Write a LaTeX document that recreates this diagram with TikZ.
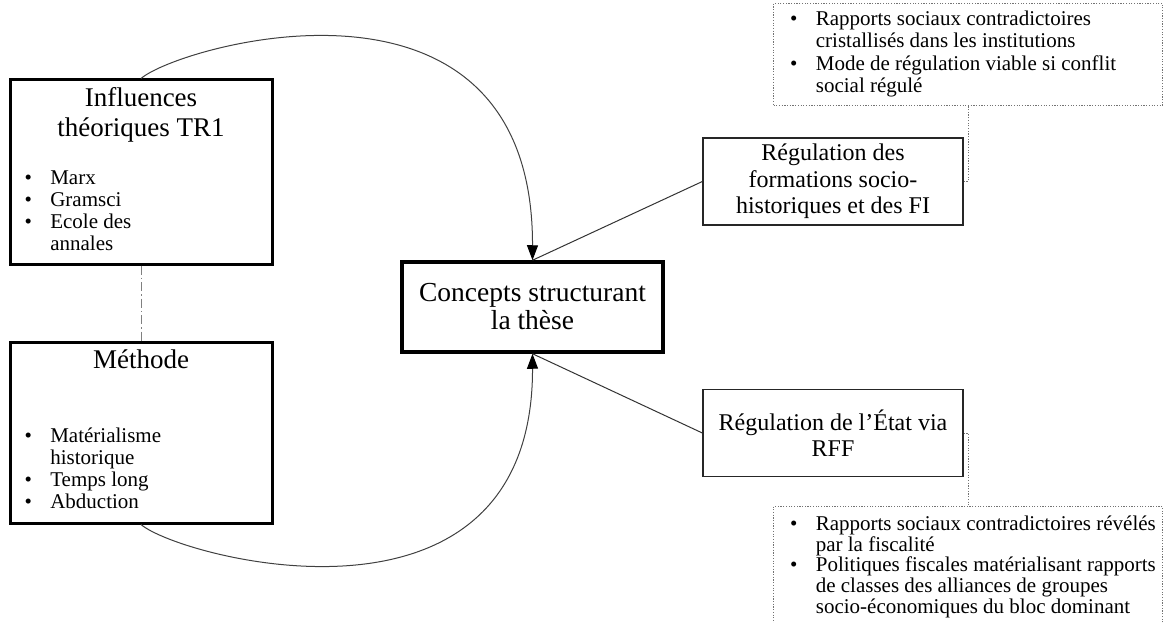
\documentclass[tikz,border=0pt]{standalone}
\usepackage{fontspec}
\setmainfont{Liberation Serif}
\usetikzlibrary{arrows.meta}
\newcommand{\puces}[1]{\begin{tabular}[t]{@{}l@{\hspace{18.5pt}}l@{}}#1\end{tabular}}
\newcommand{\titre}{\fontsize{27}{30}\selectfont}
\newcommand{\liste}{\fontsize{21}{22}\selectfont}
\begin{document}
\begin{tikzpicture}[x=1pt,y=-1pt,
    cadre/.style={draw, line width=3pt, minimum width=262, inner sep=0pt},
    centre/.style={draw, line width=3.5pt, minimum width=261, minimum height=90,
      align=center, font=\fontsize{27.5}{28}\selectfont},
    regle/.style={draw=black!85, line width=1.3pt, minimum width=260, minimum height=87,
      align=center, font=\fontsize{24}{26.5}\selectfont},
    note/.style={draw=black!55, line width=1pt, dash pattern=on 1.2pt off 1.5pt,
      inner sep=0pt, anchor=north west},
    lien/.style={draw=black!80, line width=1pt},
    courbe/.style={draw=black!75, line width=1pt,
      -{Triangle[length=15pt,width=11pt,color=black]}},
    pointille/.style={draw=black!55, line width=1pt, dash pattern=on 1.2pt off 1.5pt}]
  \useasboundingbox (0,0) rectangle (1163,623);
  % left boxes
  \node[cadre, minimum height=184] (influences) at (141,172) {\begin{minipage}{262pt}
      \centering\titre Influences\\théoriques TR1\par
      \vspace{26pt}\raggedright\liste\hspace*{14.5pt}\puces{\textbullet & Marx\\
        \textbullet & Gramsci\\ \textbullet & Ecole des\\ & annales}\par
    \end{minipage}};
  \node[cadre, minimum height=181] (methode) at (141,432.5) {\begin{minipage}{262pt}
      \centering\titre Méthode\par
      \vspace{52pt}\raggedright\liste\hspace*{14.5pt}\puces{\textbullet & Matérialisme\\
        & historique\\ \textbullet & Temps long\\ \textbullet & Abduction}\par
    \end{minipage}};
  % centre
  \node[centre] (concepts) at (532.5,307) {Concepts structurant\\la thèse};
  % right boxes
  \node[regle] (regfs) at (833,181.5) {Régulation des\\formations socio-\\historiques et des FI};
  \node[regle] (regetat) at (833,433) {Régulation de l’État via\\RFF};
  % notes
  \node[note] (note1) at (773,3) {\begin{minipage}[c][102pt][c]{389pt}
      \fontsize{21}{22.5}\selectfont\raggedright\hspace*{16.5pt}\puces{\textbullet & Rapports sociaux contradictoires\\
        & cristallisés dans les institutions\\ \textbullet & Mode de régulation viable si conflit\\
        & social régulé}\par
    \end{minipage}};
  \node[note] (note2) at (773,506) {\begin{minipage}[c][140pt][t]{389pt}
      \vspace*{9pt}\fontsize{21}{20.5}\selectfont\raggedright\hspace*{16.5pt}\puces{\textbullet & Rapports sociaux contradictoires révélés\\
        & par la fiscalité\\ \textbullet & Politiques fiscales matérialisant rapports\\
        & de classes des alliances de groupes\\ & socio-économiques du bloc dominant}\par
    \end{minipage}};
  % connectors
  \draw[draw=black!50, line width=1pt, dash pattern=on 9pt off 3pt on 1.5pt off 3pt]
    (influences.south) -- (methode.north);
  \draw[courbe] (influences.north) .. controls (180,45) and (533,-55) .. (concepts.north);
  \draw[courbe] (methode.south) .. controls (180,558) and (533,652) .. (concepts.south);
  \draw[lien] (concepts.north) -- (regfs.west);
  \draw[lien] (concepts.south) -- (regetat.west);
  \draw[pointille] (regfs.east) -| (note1.south);
  \draw[pointille] (regetat.east) -| (note2.north);
\end{tikzpicture}
\end{document}
